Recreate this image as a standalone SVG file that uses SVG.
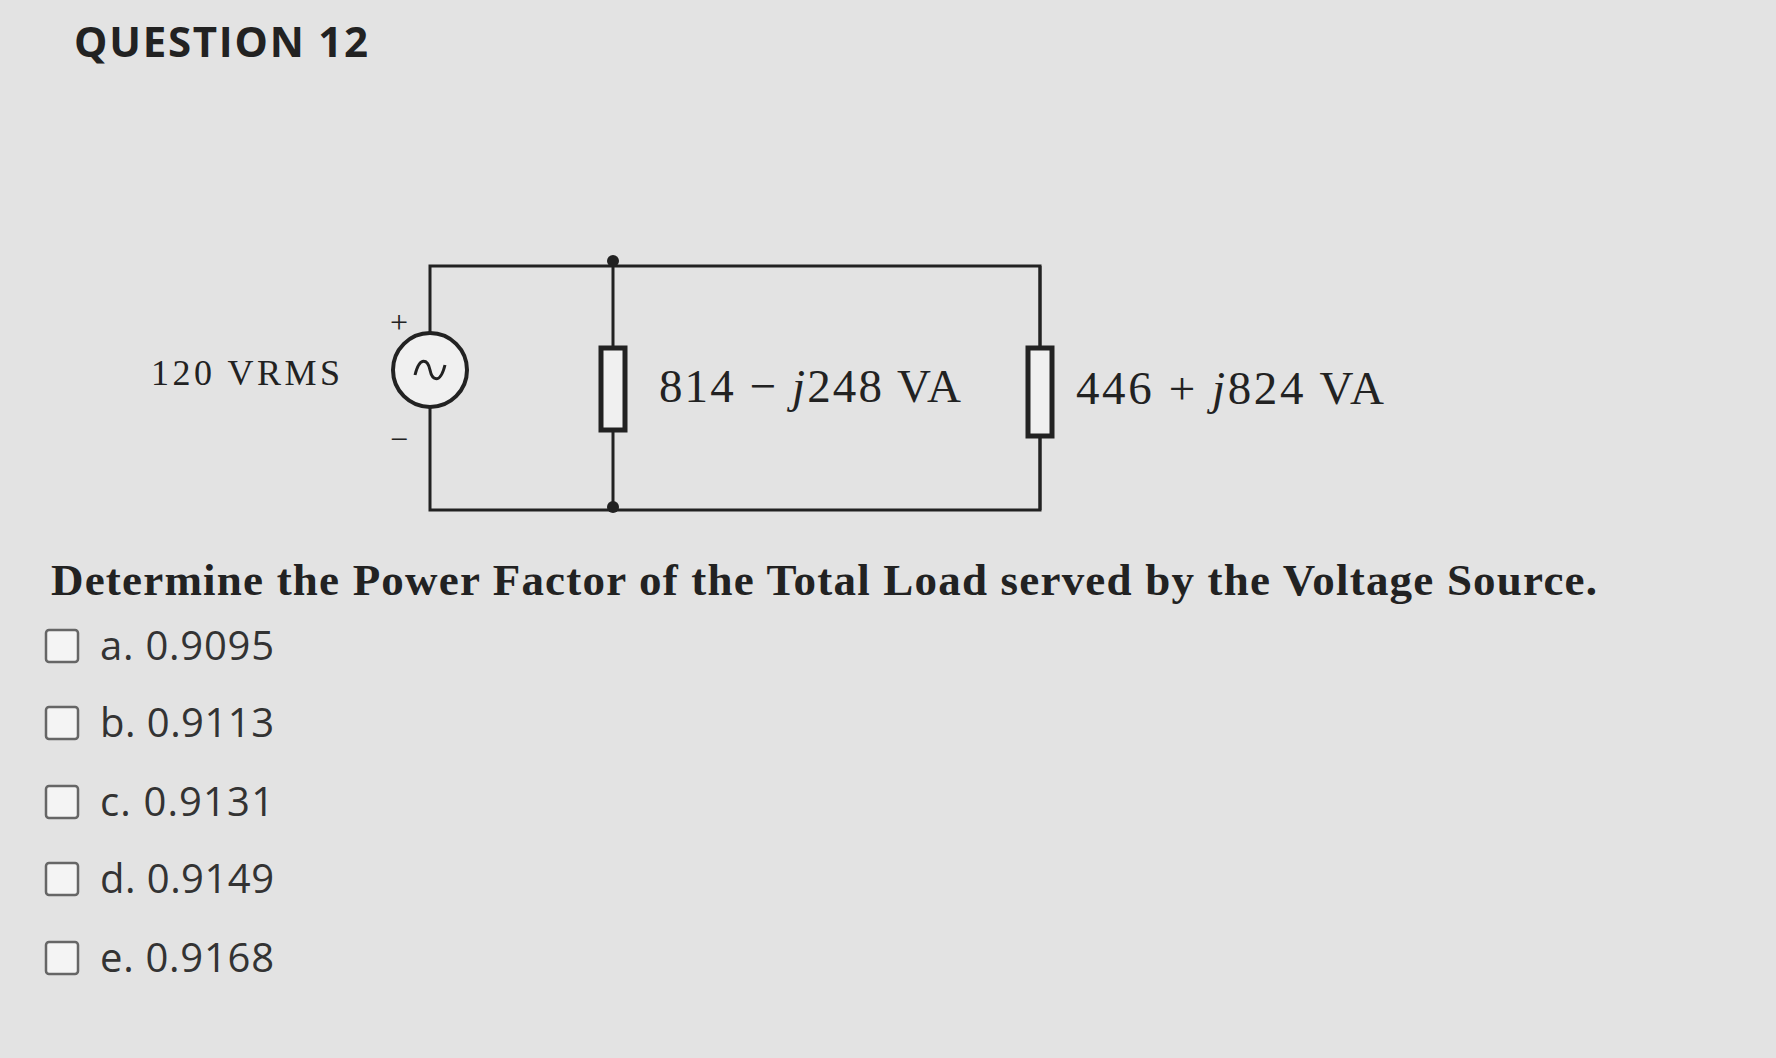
<svg xmlns="http://www.w3.org/2000/svg" width="1776" height="1058" viewBox="0 0 1776 1058">
<style>
.w{fill:none;stroke:#222;stroke-width:3}
.cb{fill:#f4f4f4;stroke:#666;stroke-width:2.5}
.opt{font-family:"Open Sans","Liberation Sans",sans-serif;font-size:40px;fill:#333}
.ser{font-family:"Liberation Serif",serif;fill:#222}
</style>
<rect width="1776" height="1058" fill="#e3e3e3"/>
<text x="74" y="57" font-family="'Open Sans','Liberation Sans',sans-serif" font-weight="bold" font-size="42" fill="#222" textLength="294">QUESTION 12</text>
<g id="connectors">
<path class="w" d="M430,333 V266 H1040 V510 H430 V407"/>
<path class="w" d="M613,266 V348 M613,430 V507 M1040,348 V266 M1040,436 V510"/>
</g>
<g id="source">
<circle cx="430" cy="370" r="37" fill="#f0f0f0" stroke="#222" stroke-width="4"/>
<path d="M415,375 C420,355 428,360 430,370 C432,380 440,385 445,365" fill="none" stroke="#222" stroke-width="3"/>
<text x="399" y="333" class="ser" font-size="32" text-anchor="middle">+</text>
<text x="399" y="450" class="ser" font-size="32" text-anchor="middle">−</text>
<text x="151" y="385" class="ser" font-size="36" textLength="189">120 VRMS</text>
</g>
<g id="load1">
<rect x="601" y="348" width="24" height="82" fill="#f0f0f0" stroke="#222" stroke-width="5"/>
<circle cx="613" cy="261" r="6" fill="#222"/><circle cx="613" cy="507" r="6" fill="#222"/>
<text x="659" y="402" class="ser" font-size="47" textLength="302">814 − <tspan font-style="italic">j</tspan>248 VA</text>
</g>
<g id="load2">
<rect x="1028" y="348" width="24" height="88" fill="#f0f0f0" stroke="#222" stroke-width="5"/>
<text x="1076" y="404" class="ser" font-size="47" textLength="308">446 + <tspan font-style="italic">j</tspan>824 VA</text>
</g>
<text x="51" y="595" class="ser" font-size="45" font-weight="bold" textLength="1546">Determine the Power Factor of the Total Load served by the Voltage Source.</text>
<g id="options">
<rect class="cb" x="46" y="630" width="32" height="32" rx="3"/><text class="opt" x="100" y="660" textLength="174">a. 0.9095</text>
<rect class="cb" x="46" y="707" width="32" height="32" rx="3"/><text class="opt" x="100" y="737" textLength="174">b. 0.9113</text>
<rect class="cb" x="46" y="786" width="32" height="32" rx="3"/><text class="opt" x="100" y="816" textLength="174">c. 0.9131</text>
<rect class="cb" x="46" y="863" width="32" height="32" rx="3"/><text class="opt" x="100" y="893" textLength="174">d. 0.9149</text>
<rect class="cb" x="46" y="942" width="32" height="32" rx="3"/><text class="opt" x="100" y="972" textLength="174">e. 0.9168</text>
</g>
</svg>
